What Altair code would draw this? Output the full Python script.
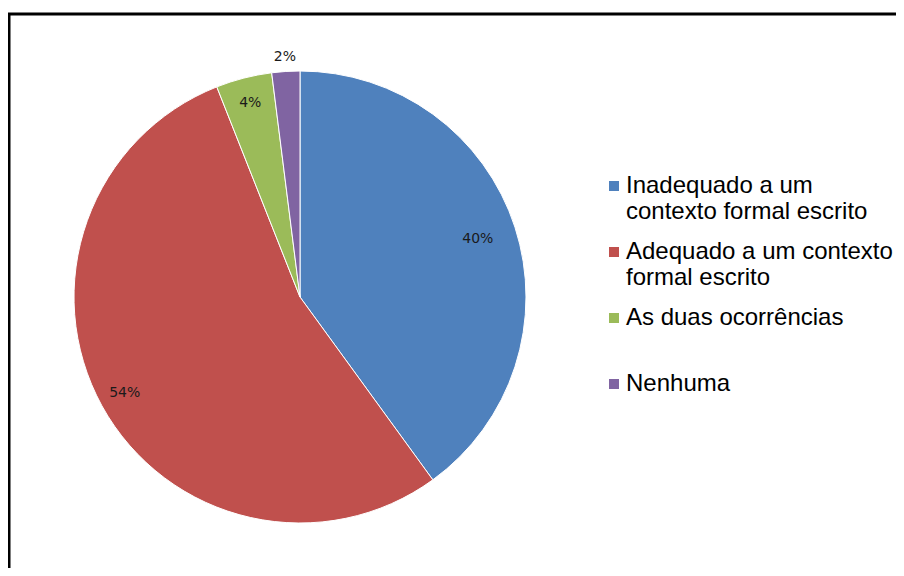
import altair as alt
import pandas as pd

categories = [
    "Inadequado a um\ncontexto formal escrito",
    "Adequado a um contexto\nformal escrito",
    "As duas ocorrências",
    "Nenhuma",
]
values = [40, 54, 4, 2]
labels = ["40%", "54%", "4%", "2%"]
colors = ["#4F81BD", "#C0504D", "#9BBB59", "#8064A2"]
label_group = ["inner", "edge", "edge", "outer"]

df = pd.DataFrame({
    "cat": categories,
    "val": values,
    "lab": labels,
    "idx": list(range(len(categories))),
    "grp": label_group,
})

CX, CY, R = 292, 289, 226
TOTAL = sum(values)

color = alt.Color(
    "cat:N",
    scale=alt.Scale(domain=categories, range=colors),
    sort=categories,
    legend=alt.Legend(
        title=None,
        orient="none",
        legendX=590,
        legendY=166,
        labelExpr="split(datum.label, '\\n')",
        labelFont="Liberation Sans",
        labelFontSize=24,
        labelColor="#000000",
        labelLimit=400,
        labelBaseline="middle",
        symbolType="square",
        symbolSize=100,
        symbolStrokeWidth=0,
        symbolOffset=4,
        gridAlign="all",
        rowPadding=16,
        labelOffset=0,
    ),
)

base = alt.Chart(df)

pie = base.mark_arc(stroke="white", strokeWidth=1).encode(
    theta=alt.Theta("val:Q", stack=True, scale=alt.Scale(domain=[0, TOTAL])),
    order=alt.Order("idx:Q"),
    color=color,
    x=alt.value(CX),
    y=alt.value(CY),
    radius=alt.value(R),
)


def text_layer(group, r):
    return base.transform_window(
        cum="sum(val)", sort=[alt.SortField("idx")]
    ).transform_calculate(
        mid="datum.cum - datum.val / 2"
    ).transform_filter(
        alt.datum.grp == group
    ).mark_text(
        font="DejaVu Sans", fontSize=14, color="#1a1a1a"
    ).encode(
        theta=alt.Theta("mid:Q", scale=alt.Scale(domain=[0, TOTAL])),
        text="lab:N",
        x=alt.value(CX),
        y=alt.value(CY),
        radius=alt.value(r),
    )


t_inner = text_layer("inner", 187)
t_edge = text_layer("edge", 200)
t_outer = text_layer("outer", 240)

border_df = pd.DataFrame({"k": [0]})
top_line = alt.Chart(border_df).mark_rule(color="black", strokeWidth=3).encode(
    x=alt.value(0), x2=alt.value(888), y=alt.value(6)
)
left_line = alt.Chart(border_df).mark_rule(color="black", strokeWidth=3).encode(
    x=alt.value(1), y=alt.value(6), y2=alt.value(560)
)

chart = alt.layer(pie, t_inner, t_edge, t_outer, top_line, left_line).properties(
    width=888, height=560, autosize=alt.AutoSizeParams(type="none"), padding=0
).configure_view(stroke=None)

chart.save("out.html", embed_options={"renderer": "svg", "actions": False})
